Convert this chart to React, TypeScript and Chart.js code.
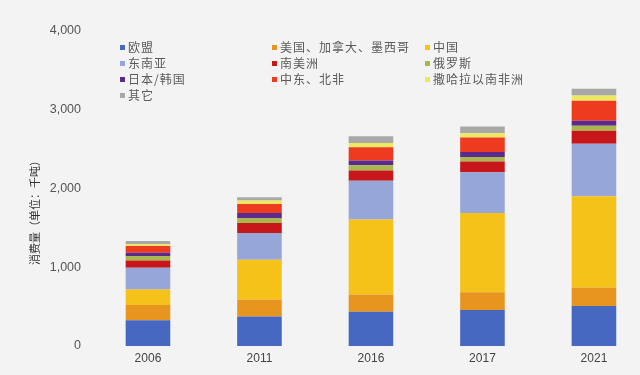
import React, { useEffect, useRef } from "react";
import { Chart, registerables } from "chart.js";

Chart.register(...registerables);

const YEARS = ["2006", "2011", "2016", "2017", "2021"];
const SERIES_NAMES = [
  "欧盟",
  "美国、加拿大、墨西哥",
  "中国",
  "东南亚",
  "南美洲",
  "俄罗斯",
  "日本/韩国",
  "中东、北非",
  "撒哈拉以南非洲",
  "其它",
];
const EU = [326, 375, 435, 456, 507];
const US_CA_MX = [194, 211, 220, 228, 232];
const CHINA = [199, 510, 951, 1005, 1162];
const SE_ASIA = [274, 340, 494, 516, 668];
const S_AMERICA = [94, 127, 127, 139, 165];
const RUSSIA = [55, 63, 68, 55, 63];
const JP_KR = [42, 63, 59, 63, 63];
const MENA = [85, 114, 169, 186, 253];
const SSA = [22, 45, 55, 55, 68];
const OTHER = [42, 40, 85, 85, 85];
const SERIES_VALUES = [EU, US_CA_MX, CHINA, SE_ASIA, S_AMERICA, RUSSIA, JP_KR, MENA, SSA, OTHER];
const COLORS = [
  "#4668c0",
  "#e8951f",
  "#f5c21a",
  "#97a6d8",
  "#c8171a",
  "#a8b84e",
  "#5a2a8c",
  "#ee3a1e",
  "#eee860",
  "#a8a8a8",
];
const Y_TICKS = [0, 1000, 2000, 3000, 4000];
const Y_TITLE = "消费量（单位：千吨）";

const CJK = '"Noto Sans CJK SC", "Noto Sans", sans-serif';
const LATIN = '"Liberation Sans", Arial, sans-serif';

const legendPlugin = {
  id: "gridLegend",
  afterDraw(chart: any) {
    const ctx = chart.ctx;
    const colX = [120, 272, 425];
    const rowY0 = 47.5;
    const rowH = 16;
    ctx.save();
    ctx.font = `12px ${CJK}`;
    try {
      (ctx as any).letterSpacing = "1px";
    } catch (e) {}
    ctx.textBaseline = "middle";
    ctx.textAlign = "left";
    chart.data.datasets.forEach((ds: any, i: number) => {
      const col = i % 3;
      const row = Math.floor(i / 3);
      const x = colX[col];
      const y = rowY0 + row * rowH;
      ctx.fillStyle = ds.backgroundColor;
      ctx.fillRect(x, y - 2.5, 5, 5);
      ctx.fillStyle = "#5a5a5a";
      ctx.fillText(ds.label, x + 8, y);
    });
    ctx.restore();
  },
};

const yTitlePlugin = {
  id: "yTitle",
  afterDraw(chart: any) {
    const ctx = chart.ctx;
    ctx.save();
    ctx.translate(35, 210);
    ctx.rotate(-Math.PI / 2);
    ctx.font = `11px ${CJK}`;
    ctx.fillStyle = "#333333";
    ctx.textAlign = "center";
    ctx.textBaseline = "middle";
    ctx.fillText(Y_TITLE, 0, 0);
    ctx.restore();
  },
};

export default function App() {
  const ref = useRef<HTMLCanvasElement | null>(null);

  useEffect(() => {
    if (!ref.current) return;
    const datasets = SERIES_NAMES.map((name, i) => ({
      label: name,
      data: SERIES_VALUES[i].map((v, j) => ({ x: j, y: v })),
      backgroundColor: COLORS[i],
      borderWidth: 0,
      stack: "total",
      barPercentage: 0.4,
      categoryPercentage: 1,
    }));
    const chart = new Chart(ref.current, {
      type: "bar",
      data: { datasets },
      options: {
        animation: false,
        responsive: false,
        maintainAspectRatio: false,
        layout: { padding: { top: 31, bottom: 4.6, left: 0, right: 0 } },
        plugins: {
          legend: { display: false },
          tooltip: { enabled: false },
          title: { display: false },
        },
        scales: {
          x: {
            type: "linear",
            offset: false,
            min: -0.502,
            max: 4.413,
            grid: { display: false, drawTicks: false },
            border: { display: false },
            afterBuildTicks: (scale: any) => {
              scale.ticks = YEARS.map((_, i) => ({ value: i }));
            },
            ticks: {
              autoSkip: false,
              maxRotation: 0,
              padding: 5,
              color: "#444444",
              font: { family: LATIN, size: 12 },
              callback: (v: any) => YEARS[v as number] ?? "",
            },
          },
          y: {
            stacked: true,
            min: 0,
            max: 4000,
            afterFit: (scale: any) => {
              scale.width = 92;
            },
            afterBuildTicks: (scale: any) => {
              scale.ticks = Y_TICKS.map((v) => ({ value: v }));
            },
            grid: { display: false, drawTicks: false },
            border: { display: false },
            ticks: {
              padding: 11,
              color: "#555555",
              font: { family: LATIN, size: 12.5 },
              callback: (v: any) => Number(v).toLocaleString("en-US"),
            },
          },
        },
      },
      plugins: [legendPlugin, yTitlePlugin],
    });
    return () => chart.destroy();
  }, []);

  return (
    <div
      style={{
        position: "fixed",
        left: 0,
        top: 0,
        width: 640,
        height: 375,
        background: "#f3f3f3",
      }}
    >
      <canvas ref={ref} width={640} height={375} style={{ width: 640, height: 375, display: "block" }} />
    </div>
  );
}
